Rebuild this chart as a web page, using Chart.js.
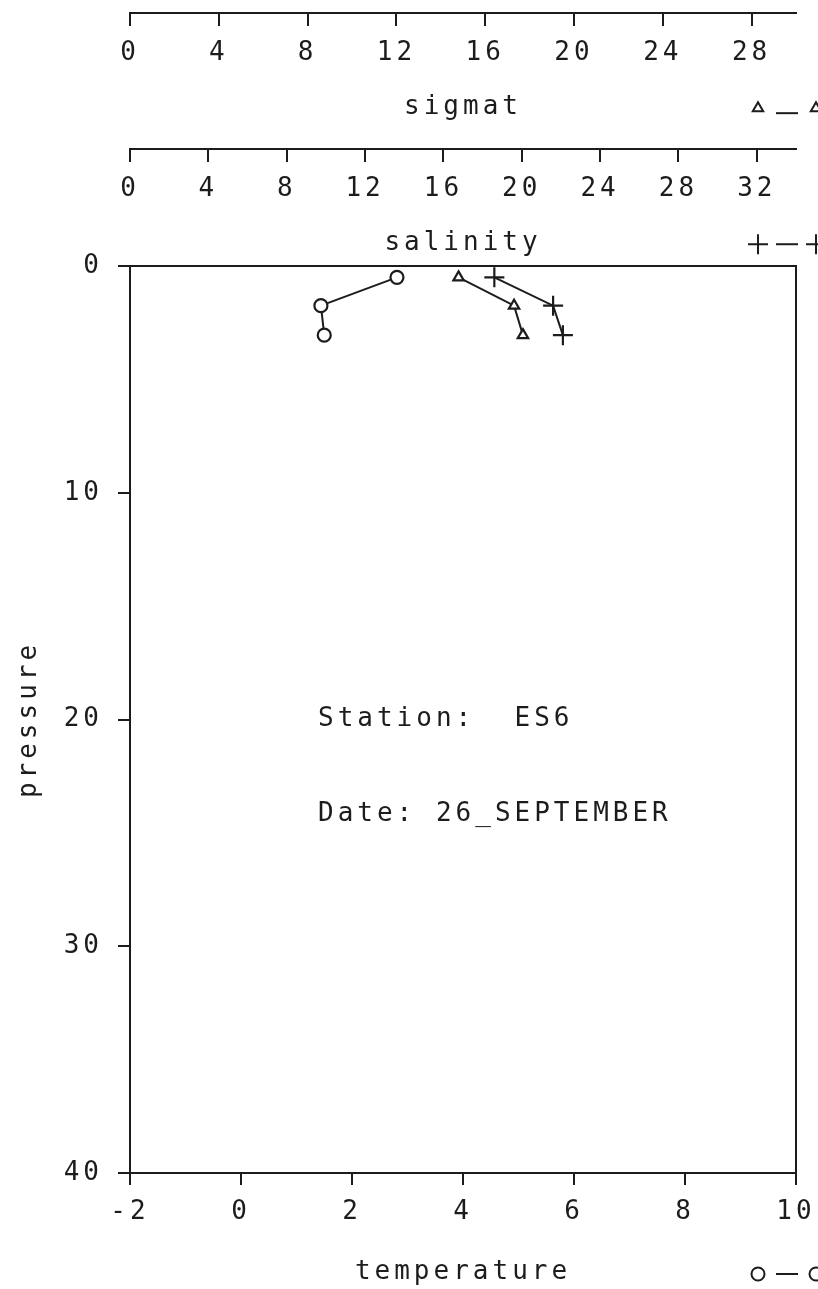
<!DOCTYPE html>
<html>
<head>
<meta charset="utf-8">
<script src="https://cdn.jsdelivr.net/npm/chart.js@4.4.1/dist/chart.umd.min.js"></script>
<style>
  html, body { margin: 0; padding: 0; background: #fff; }
  canvas { display: block; }
</style>
</head>
<body>
<canvas id="profile" width="818" height="1289"></canvas>
<script>
// station ES6, 26 September
const pressure = [0.5, 1.75, 3.05];
const temperature = [2.81, 1.44, 1.5];
const sigmat = [14.8, 17.3, 17.7];
const salinity = [18.6, 21.6, 22.1];

const pressureTicks = [0, 10, 20, 30, 40];
const temperatureTicks = [-2, 0, 2, 4, 6, 8, 10];
const sigmatTicks = [0, 4, 8, 12, 16, 20, 24, 28];
const salinityTicks = [0, 4, 8, 12, 16, 20, 24, 28, 32];

const stationText = 'Station:  ES6';
const dateText = 'Date: 26_SEPTEMBER';

const ink = '#1c1c1c';
const plotFont = { family: "'DejaVu Sans Mono', monospace", size: 26 };

// rows (in pressure units, above the plot) where the two upper axes sit
const sigmatRow = -11.15;
const salinityRow = -5.15;

function pairs(xs) {
  return pressure.map((p, i) => ({ x: xs[i], y: p }));
}

function fixTicks(list) {
  return scale => { scale.ticks = list.map(v => ({ value: v })); };
}

function xAxis(extra) {
  return Object.assign({
    type: 'linear',
    axis: 'x',
    grid: { drawOnChartArea: false, color: ink, lineWidth: 2, tickLength: 12 },
    border: { color: ink, width: 2 },
    ticks: { color: ink, font: plotFont, padding: 12, maxRotation: 0, autoSkip: false }
  }, extra);
}

const spacing = {
  id: 'spacing',
  beforeUpdate(chart) { chart.ctx.letterSpacing = '4px'; },
  beforeDraw(chart) { chart.ctx.letterSpacing = '4px'; }
};

const frame = {
  id: 'frame',
  afterDraw(chart) {
    const { ctx, chartArea: a, scales } = chart;
    ctx.save();
    ctx.letterSpacing = '4px';
    ctx.strokeStyle = ink;
    ctx.lineWidth = 2;
    ctx.beginPath();
    ctx.moveTo(a.left, a.top);
    ctx.lineTo(a.right, a.top);
    ctx.lineTo(a.right, a.bottom);
    ctx.stroke();

    ctx.fillStyle = ink;
    ctx.font = plotFont.size + 'px ' + plotFont.family;
    ctx.textAlign = 'left';
    ctx.textBaseline = 'middle';
    ctx.fillText(stationText, a.left + 188, scales.pressure.getPixelForValue(20));
    ctx.fillText(dateText, a.left + 188, scales.pressure.getPixelForValue(24.2));

    // line keys next to each axis title (cut by the right edge)
    const keyRows = [
      scales.pressure.getPixelForValue(sigmatRow) + 95,
      scales.pressure.getPixelForValue(salinityRow) + 95,
      a.bottom + 101
    ];
    const order = [1, 2, 0];
    order.forEach((di, k) => {
      const ds = chart.data.datasets[di];
      const y = keyRows[k];
      ctx.strokeStyle = ink;
      ctx.fillStyle = '#fff';
      ctx.lineWidth = 2;
      ctx.beginPath();
      ctx.moveTo(776, y + (di === 1 ? 5 : 0));
      ctx.lineTo(798, y + (di === 1 ? 5 : 0));
      ctx.stroke();
      [758, 816].forEach(x => {
        Chart.helpers.drawPoint(ctx, {
          pointStyle: ds.pointStyle,
          radius: ds.pointRadius,
          borderWidth: ds.pointBorderWidth,
          rotation: 0
        }, x, y);
      });
    });
    ctx.restore();
  }
};

const lineStyle = {
  showLine: true,
  borderColor: ink,
  borderWidth: 2,
  pointBorderColor: ink,
  pointBackgroundColor: '#fff',
  pointBorderWidth: 2.2,
  yAxisID: 'pressure'
};

new Chart(document.getElementById('profile'), {
  type: 'scatter',
  data: {
    datasets: [
      Object.assign({ label: 'temperature', data: pairs(temperature), xAxisID: 'temperature',
        pointStyle: 'circle', pointRadius: 6.5 }, lineStyle),
      Object.assign({ label: 'sigmat', data: pairs(sigmat), xAxisID: 'sigmat',
        pointStyle: 'triangle', pointRadius: 6 }, lineStyle),
      Object.assign({ label: 'salinity', data: pairs(salinity), xAxisID: 'salinity',
        pointStyle: 'cross', pointRadius: 10 }, lineStyle)
    ]
  },
  options: {
    responsive: false,
    animation: false,
    devicePixelRatio: 1,
    layout: { padding: { top: 266, left: 0, right: 22, bottom: 0 } },
    plugins: { legend: { display: false }, tooltip: { enabled: false } },
    scales: {
      pressure: {
        type: 'linear',
        axis: 'y',
        position: 'left',
        reverse: true,
        min: 0,
        max: 40,
        afterBuildTicks: fixTicks(pressureTicks),
        afterFit: s => { s.width = 130; },
        grid: { drawOnChartArea: false, color: ink, lineWidth: 2, tickLength: 12 },
        border: { color: ink, width: 2 },
        ticks: { color: ink, font: plotFont, padding: 15 },
        title: { display: true, text: 'pressure', color: ink, font: plotFont, padding: { top: 14, bottom: 0 } }
      },
      temperature: xAxis({
        position: 'bottom',
        min: -2,
        max: 10,
        afterBuildTicks: fixTicks(temperatureTicks),
        afterFit: s => { s.height = 116; s.paddingRight = 0; },
        title: { display: true, text: 'temperature', color: ink, font: plotFont, padding: { top: 0, bottom: 1 } }
      }),
      sigmat: xAxis({
        position: { pressure: sigmatRow },
        min: 0,
        max: 30,
        afterBuildTicks: fixTicks(sigmatTicks),
        afterFit: s => { s.height = 112; s.paddingRight = 0; },
        title: { display: true, text: 'sigmat', color: ink, font: plotFont, padding: { top: 0, bottom: 2 } }
      }),
      salinity: xAxis({
        position: { pressure: salinityRow },
        min: 0,
        max: 34,
        afterBuildTicks: fixTicks(salinityTicks),
        afterFit: s => { s.height = 112; s.paddingRight = 0; },
        title: { display: true, text: 'salinity', color: ink, font: plotFont, padding: { top: 0, bottom: 2 } }
      })
    }
  },
  plugins: [spacing, frame]
});
</script>
</body>
</html>
